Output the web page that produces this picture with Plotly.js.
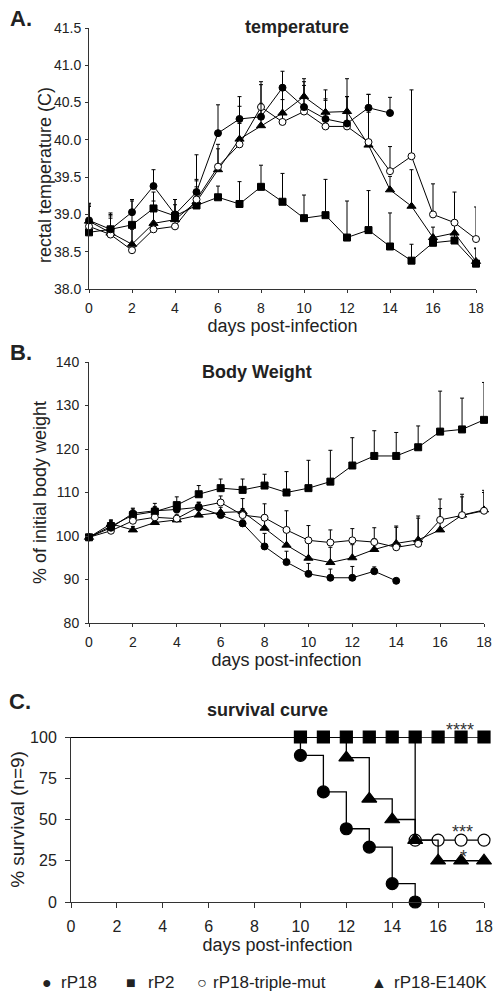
<!DOCTYPE html>
<html><head><meta charset="utf-8">
<script src="https://cdn.plot.ly/plotly-3.0.1.min.js"></script>
<style>html,body{margin:0;padding:0;background:#fff}#chart{width:504px;height:1001px}</style>
</head><body><div id="chart"></div>
<script>
// ---------- DATA ----------
const days = [0,1,2,3,4,5,6,7,8,9,10,11,12,13,14,15,16,17,18];
const seriesNames = ['rP18','rP2','rP18-triple-mut','rP18-E140K'];

// Panel A: rectal temperature (C)
const tempP18     = [38.92,38.80,39.03,39.38,39.00,39.30,40.09,40.28,40.31,40.70,40.44,40.28,40.22,40.43,40.36];
const tempP18Err  = [0.23,0.20,0.17,0.22,0.20,0.50,0.38,0.30,0.47,0.22,0.38,0.27,0.60,0.18,0.21];
const tempP2      = [38.76,38.80,38.86,39.08,38.98,39.12,39.23,39.14,39.37,39.17,38.95,38.99,38.69,38.79,38.57,38.38,38.62,38.65,38.34];
const tempP2Err   = [0.35,0.22,0.32,0.22,0.22,0.35,0.15,0.30,0.29,0.38,0.31,0.48,0.49,0.53,0.45,0.22,0.10,0.08,0.20];
const tempMut     = [38.84,38.73,38.52,38.80,38.84,39.20,39.64,39.94,40.44,40.24,40.38,40.18,40.18,39.97,39.58,39.78,39.00,38.89,38.67];
const tempMutErr  = [0.30,0.25,0.30,0.30,0.20,0.25,0.30,0.28,0.30,0.30,0.35,0.35,0.40,0.40,0.33,0.89,0.41,0.41,0.43];
const tempE140K   = [38.91,38.75,38.60,38.88,38.93,39.17,39.60,40.01,40.19,40.36,40.58,40.37,40.38,39.93,39.33,39.11,38.69,38.75,38.37];
const tempE140KErr= [0.20,0.20,0.20,0.30,0.20,0.20,0.28,0.44,0.30,0.31,0.20,0.30,0.20,0.68,0.18,0.49,0.14,0.12,0.18];

// Panel B: % of initial body weight
const wtP18      = [99.7,101.9,105.2,105.8,106.1,106.6,104.8,102.9,97.6,94.0,91.3,90.4,90.4,91.9,89.7];
const wtP18Err   = [0,0.6,1.0,1.0,1.5,1.2,1.0,0.8,3.0,2.5,2.4,2.0,2.6,1.0,0];
const wtP2       = [99.7,102.3,104.8,105.6,107.1,109.6,111.0,110.6,111.6,110.0,111.0,112.5,116.2,118.4,118.4,120.4,124.0,124.5,126.7];
const wtP2Err    = [0,1.4,1.6,1.9,1.9,2.0,2.1,2.5,2.6,4.8,6.4,7.2,6.4,5.8,5.4,4.9,9.3,7.2,8.6];
const wtMut      = [99.7,101.2,103.5,104.3,104.0,106.7,107.7,104.8,104.2,101.4,99.0,98.5,99.0,98.6,97.4,98.2,103.7,104.8,105.8];
const wtMutErr   = [0,0.8,1.0,1.0,1.0,1.0,1.5,1.5,3.2,4.4,3.4,2.9,2.7,3.3,4.9,6.4,4.8,4.2,4.7];
const wtE140K    = [99.7,102.8,101.4,103.1,103.7,104.8,105.4,105.6,101.8,97.9,94.9,93.9,95.0,96.9,98.3,99.1,101.4,104.8,106.0];
const wtE140KErr = [0,0.8,0.8,0.8,1.0,1.0,1.2,3.0,3.0,3.0,3.5,3.5,3.0,2.5,3.7,5.0,4.9,4.8,4.0];

// Panel C: % survival (n=9)
const survStartDay = 0, survStartVal = 100;
const survP18Days   = [10,11,12,13,14,15];
const survP18       = [88.9,66.7,44.4,33.3,11.1,0];
const survP2Days    = [10,11,12,13,14,15,16,17,18];
const survP2        = [100,100,100,100,100,100,100,100,100];
const survMutDays   = [15,16,17,18];
const survMut       = [37.5,37.5,37.5,37.5];
const survE140KDays = [12,13,14,15,16,17,18];
const survE140K     = [87.5,62.5,50,37.5,25,25,25];
const sigLabels = [{text:'****', day:16.95, val:104.5},{text:'***', day:17.05, val:42.5},{text:'*', day:17.1, val:27}];

// ---------- STYLE HELPERS ----------
const W = 504, H = 1001;
const px = x => x / W;
const py = y => 1 - y / H;
const FONT = 'Arial, "Liberation Sans", sans-serif';

const styles = {
  'rP18':            {symbol:'circle', color:'#000', line:'#000'},
  'rP2':             {symbol:'square', color:'#000', line:'#000'},
  'rP18-triple-mut': {symbol:'circle', color:'#fff', line:'#000'},
  'rP18-E140K':      {symbol:'triangle-up', color:'#000', line:'#000'}
};

function lineTrace(name, xa, ya, y, err, size) {
  const st = styles[name];
  return {
    type:'scatter', mode:'lines+markers', name, xaxis:xa, yaxis:ya,
    x: days.slice(0, y.length), y,
    line:{color:'#000', width:1},
    marker:{symbol:st.symbol, color:st.color, size: st.symbol==='triangle-up'? size+1 : size, line:{color:st.line, width:1}},
    error_y:{type:'data', symmetric:false, array:err, arrayminus:err.map(()=>0), color:'#000', thickness:1, width:2},
    cliponaxis:false, showlegend:false, hoverinfo:'x+y'
  };
}

function survTrace(name, d, v, size) {
  const st = styles[name];
  const xs = [survStartDay].concat(d), ys = [survStartVal].concat(v);
  return [
    {type:'scatter', mode:'lines', name, xaxis:'x3', yaxis:'y3', x:xs, y:ys,
     line:{color:'#000', width:1.3, shape:'hv'}, cliponaxis:false, showlegend:false, hoverinfo:'skip'},
    {type:'scatter', mode:'markers', name, xaxis:'x3', yaxis:'y3', x:d, y:v,
     marker:{symbol:st.symbol, color:st.color, size:size, line:{color:st.line, width:1.2}},
     cliponaxis:false, showlegend:false}
  ];
}

const traces = [
  lineTrace('rP2','x','y',tempP2,tempP2Err,7),
  lineTrace('rP18-E140K','x','y',tempE140K,tempE140KErr,7),
  lineTrace('rP18-triple-mut','x','y',tempMut,tempMutErr,7),
  lineTrace('rP18','x','y',tempP18,tempP18Err,7),

  lineTrace('rP2','x2','y2',wtP2,wtP2Err,7),
  lineTrace('rP18-E140K','x2','y2',wtE140K,wtE140KErr,7),
  lineTrace('rP18-triple-mut','x2','y2',wtMut,wtMutErr,7),
  lineTrace('rP18','x2','y2',wtP18,wtP18Err,7),

  ...survTrace('rP18', survP18Days, survP18, 12),
  ...survTrace('rP18-triple-mut', survMutDays, survMut, 12),
  ...survTrace('rP18-E140K', survE140KDays, survE140K, 13),
  ...survTrace('rP2', survP2Days, survP2, 12)
];

const evenTicks = days.filter(d => d % 2 === 0);
function xAxis(d0, d1, anchor, tickSize, ticklen, tls, standoff) {
  return {domain:[px(d0), px(d1)], range:[0,18], anchor, tickvals:evenTicks,
    ticks:'outside', ticklen, tickwidth:1, tickcolor:'#333', showline:true, linecolor:'#333', linewidth:1,
    showgrid:false, zeroline:false, ticklabelstandoff:tls,
    tickfont:{family:FONT, size:tickSize, color:'#222'},
    title:{text:'days post-infection', font:{family:FONT, size:18, color:'#222'}, standoff}};
}
function yAxis(top, bottom, anchor, range, tickvals, fmt, tickSize, ticklen, tls, title, tsize, standoff) {
  return {domain:[py(bottom), py(top)], range, anchor, tickvals, tickformat:fmt,
    ticks:'outside', ticklen, tickwidth:1, tickcolor:'#333', showline:true, linecolor:'#333', linewidth:1,
    showgrid:false, zeroline:false, ticklabelstandoff:tls,
    tickfont:{family:FONT, size:tickSize, color:'#222'},
    title:{text:title, font:{family:FONT, size:tsize, color:'#222'}, standoff}};
}

const annotations = [];
function paperText(text, x, y, size, bold, anchor, angle) {
  annotations.push({xref:'paper', yref:'paper', x:px(x), y:py(y), text: bold? '<b>'+text+'</b>' : text,
    showarrow:false, xanchor:anchor||'center', yanchor:'middle', textangle:angle||0,
    font:{family:FONT, size, color:'#222'}});
}
paperText('A.', 8, 18, 22, true, 'left');
paperText('B.', 8, 353, 22, true, 'left');
paperText('C.', 7, 701, 22, true, 'left');
paperText('temperature', 297, 27, 18, true);
paperText('Body Weight', 257, 372, 18, true);
paperText('survival curve', 267, 710, 18, true);
paperText('rectal temperature (C)', 45, 175, 18, false, 'center', -90);

// significance marks: x in data units of panel C, y converted through panel C's pixel scale
const cTop = 737, cBottom = 902;
sigLabels.forEach(s => annotations.push({xref:'x3', yref:'paper', x:s.day,
  y:py(cBottom - (cBottom - cTop) * s.val / 100), text:s.text, showarrow:false,
  xanchor:'center', yanchor:'middle', font:{family:FONT, size:18, color:'#333'}}));

// legend row
const legendGlyph = {'rP18':'●','rP2':'■','rP18-triple-mut':'○','rP18-E140K':'▲'};
const legendGlyphX = [47, 131, 202, 379];
const legendTextX = [59, 146, 211, 392];
seriesNames.forEach((n, i) => {
  paperText(legendGlyph[n], legendGlyphX[i], 982, 16, false);
  paperText(n, legendTextX[i], 982, 17, false, 'left');
});

const yA = yAxis(28, 289, 'x', [38,41.5], [38,38.5,39,39.5,40,40.5,41,41.5], '.1f', 14, 3, 1, '', 18, 2);
delete yA.title;

const layout = {
  width:W, height:H, margin:{l:0,r:0,t:0,b:0}, paper_bgcolor:'#fff', plot_bgcolor:'rgba(0,0,0,0)',
  showlegend:false, font:{family:FONT, color:'#222'},
  xaxis:  xAxis(89, 476, 'y', 14, 3, 3, 4),
  yaxis:  yA,
  xaxis2: xAxis(89, 484, 'y2', 14, 3, 3, 4),
  yaxis2: yAxis(362, 623, 'x2', [80,140], [80,90,100,110,120,130,140], '', 14, 3, 3, '% of initial body weight', 18, 4),
  xaxis3: xAxis(71, 484, 'y3', 16, 5, 5, 2),
  yaxis3: yAxis(737, 902, 'x3', [0,100], [0,25,50,75,100], '', 16, 5, 5, '% survival (n=9)', 19, 0),
  annotations
};

Plotly.newPlot('chart', traces, layout, {staticPlot:true, displayModeBar:false});
</script>
</body></html>
